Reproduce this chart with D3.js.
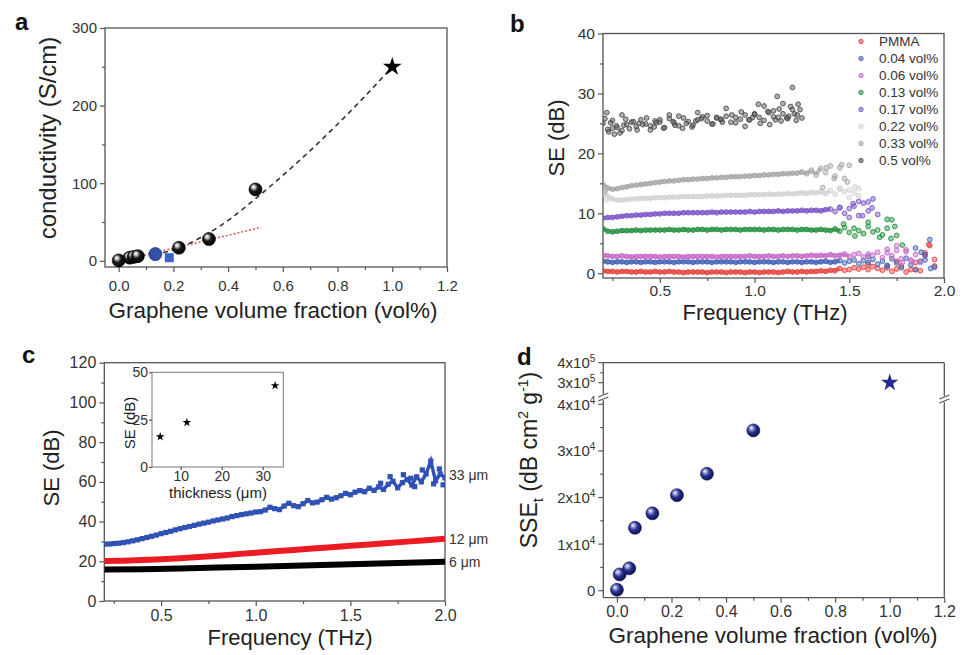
<!DOCTYPE html>
<html>
<head>
<meta charset="utf-8">
<script src="https://cdn.jsdelivr.net/npm/d3@7"></script>
<style>
  body { margin: 0; background: #fff; }
  svg { display: block; font-family: "Liberation Sans", Arial, Helvetica, sans-serif; }
  .tick text { fill: #333; }
</style>
</head>
<body>
<svg id="fig" width="965" height="655"></svg>
<script>
// ---------- panel a : conductivity vs graphene fraction
const aFrac = [0, 0.04, 0.055, 0.07, 0.22, 0.33, 0.5]
const aCond = [0.5, 4, 5, 6, 16.8, 28, 92]
const aBlueCircle = [0.134, 8.6]
const aBlueSquare = [0.185, 4]
const aStar = [1.0, 250]
const aFitX = [0.13, 0.2, 0.3, 0.4, 0.5, 0.6, 0.7, 0.8, 0.9, 1.0]
const aFitY = [8, 14, 30, 52, 80, 110, 142, 176, 212, 250]
const aLinX = [0.05, 0.52]
const aLinY = [3.5, 43]
const aXTicks = [0, 0.2, 0.4, 0.6, 0.8, 1.0, 1.2]
const aXMinor = [0.1, 0.3, 0.5, 0.7, 0.9, 1.1]
const aYTicks = [0, 100, 200, 300]
const aYMinor = [50, 150, 250]

// ---------- panel b : SE spectra, one value every 0.025 THz from 0.2 THz
const bNames = ['PMMA', '0.04 vol%', '0.06 vol%', '0.13 vol%', '0.17 vol%', '0.22 vol%', '0.33 vol%', '0.5 vol%']
const bColors = ['#e8413c', '#4262b8', '#c868c8', '#23903f', '#7b55c8', '#d2d2d2', '#a6a6a6', '#4d4d4d']
const bPMMA = [0.4,0.3,0.3,0.2,0.3,0.3,0.2,0.2,0.3,0.2, 0.2,0.3,0.2,0.2,0.3,0.2,0.2,0.1,0.2,0.2,
  0.2,0.2,0.1,0.2,0.2,0.2,0.1,0.2,0.2,0.2, 0.1,0.2,0.2,0.1,0.2,0.2,0.2,0.1,0.2,0.3,
  0.2,0.2,0.3,0.2,0.3,0.3,0.4,0.3,0.5,0.4, 0.8,0.5,0.6,0.9,0.7,1.0,0.6,1.1,0.8,0.5,
  0.9,0.3,0.7,1.2,0.2,0.6,1.8,0.4,2.9,4.6,1.2]
const b004 = [2.0,1.9,1.8,1.9,1.9,1.8,1.9,1.9,1.8,1.9, 1.9,1.8,1.9,1.9,1.9,1.8,1.9,1.9,1.9,1.8,
  1.9,1.9,1.9,1.8,1.9,1.9,1.9,1.9,1.8,1.9, 1.9,1.9,1.8,1.9,1.9,1.9,1.8,1.9,1.9,1.8,
  1.9,1.9,1.8,1.9,1.9,1.8,1.9,2.0,1.8,1.9, 2.1,1.7,2.0,2.2,1.6,2.1,1.8,2.3,1.5,2.0,
  1.3,2.4,1.7,0.9,2.5,1.4,0.6,2.0,3.1,5.6,1.0]
const b006 = [3.0,2.9,2.8,2.8,2.9,2.8,2.7,2.8,2.8,2.8, 2.8,2.8,2.7,2.8,2.8,2.8,2.8,2.7,2.8,2.8,
  2.8,2.8,2.8,2.8,2.7,2.8,2.8,2.8,2.8,2.8, 2.8,2.9,2.8,2.8,2.8,2.9,2.8,2.8,2.9,2.8,
  2.9,2.9,2.8,2.9,3.0,2.9,3.0,2.9,3.1,2.9, 3.0,3.2,2.8,3.1,3.3,2.7,3.2,3.0,3.5,2.6,
  3.4,2.9,3.8,2.4,3.6,2.2,3.1,1.8]
const b013 = [7.4,7.0,6.9,7.0,7.1,7.1,7.1,7.2,7.1,7.2, 7.2,7.2,7.2,7.2,7.3,7.2,7.2,7.3,7.2,7.2,
  7.3,7.3,7.2,7.3,7.3,7.2,7.3,7.3,7.3,7.2, 7.3,7.3,7.3,7.3,7.2,7.3,7.3,7.2,7.3,7.3,
  7.3,7.2,7.3,7.3,7.2,7.2,7.3,7.2,7.1,7.4, 7.0,7.6,6.8,7.5,7.1,6.6,7.8,6.9,7.2,6.4,
  7.5,8.9,6.3]
const b017 = [9.2,9.3,9.3,9.4,9.5,9.6,9.6,9.7,9.7,9.8, 9.8,9.9,9.9,10.0,10.0,10.0,10.0,10.1,10.1,10.1,
  10.1,10.1,10.1,10.2,10.1,10.2,10.2,10.2,10.2,10.2, 10.2,10.3,10.2,10.3,10.3,10.3,10.3,10.4,10.3,10.4,
  10.4,10.4,10.5,10.4,10.5,10.5,10.4,10.6,10.7,10.3, 10.9,10.0,10.8,11.2,9.6,11.7,10.4,12.4,9.8]
const b022 = [13.5,12.8,12.4,12.2,12.2,12.3,12.4,12.4,12.5,12.5, 12.5,12.6,12.6,12.6,12.7,12.7,12.7,12.8,12.8,12.8,
  12.8,12.8,12.9,12.9,12.9,12.9,13.0,13.0,13.0,13.0, 13.0,13.1,13.1,13.1,13.1,13.2,13.1,13.2,13.2,13.3,
  13.2,13.3,13.4,13.3,13.5,13.4,13.6,13.3,13.8,13.2, 14.0,13.6,13.9,13.4,14.1]
const b033 = [14.8,14.2,14.0,14.1,14.3,14.4,14.6,14.7,14.8,14.9, 15.0,15.1,15.2,15.3,15.4,15.4,15.5,15.6,15.6,15.7,
  15.7,15.8,15.8,15.9,15.9,16.0,16.0,16.1,16.1,16.1, 16.2,16.2,16.3,16.3,16.4,16.4,16.5,16.5,16.6,16.6,
  16.7,16.7,16.9,16.6,17.2,16.4,17.5,16.8,17.9,16.2, 17.6,15.8,18.0]
const b05 = [25.0,24.0,25.5,24.3,23.8,24.8,25.2,24.5,25.6,24.9, 24.6,25.4,25.2,24.3,25.8,25.1,24.6,25.9,25.3,24.7,
  25.6,26.1,25.4,24.9,25.9,25.6,26.2,25.2,26.0,25.7, 26.4,25.6,26.5,26.0,25.5,26.8,27.1,26.0,26.6,25.8,
  27.3,26.4,25.9]
const bSeries = [bPMMA, b004, b006, b013, b017, b022, b033, b05]
// frequency (THz) up to which each series is a tight band
const bBandEnd = [1.45, 1.45, 1.5, 1.45, 1.4, 1.4, 1.35, 0]
// loose points in the noisy parts, [THz, dB]
const bExtras = [
  [[1.6, 1.5], [1.75, 2.0], [1.85, 0.6], [1.9, 3.4], [1.95, 2.3], [1.92, 4.8]],
  [[1.6, 2.8], [1.7, 1.2], [1.85, 4.2], [1.9, 2.2], [1.93, 0.8], [1.88, 3.5]],
  [[1.7, 4.0], [1.75, 4.6], [1.8, 3.9], [1.83, 2.0], [1.78, 1.8]],
  [[1.47, 8.2], [1.53, 6.2], [1.6, 8.5], [1.66, 6.0], [1.7, 9.0], [1.72, 5.8], [1.74, 7.8], [1.78, 4.7]],
  [[1.45, 11.0], [1.5, 9.3], [1.52, 11.6], [1.57, 9.6], [1.6, 11.9], [1.62, 10.9], [1.55, 12.0]],
  [[1.45, 14.2], [1.5, 12.6], [1.53, 14.4], [1.55, 12.9], [0.22, 12.2]],
  [[1.38, 17.6], [1.42, 15.8], [1.46, 18.1], [1.49, 15.2], [1.36, 14.3], [0.21, 13.6]],
  [[0.22, 26.8], [0.26, 23.2], [0.3, 26.4], [0.45, 23.9], [0.55, 26.4], [0.62, 24.2], [0.85, 27.5], [0.95, 24.5],
   [1.02, 28.2], [1.05, 27.9], [1.08, 24.8], [1.12, 29.5], [1.15, 28.3], [1.2, 31.0], [1.22, 25.5], [0.7, 26.8],
   [0.21, 25.8], [0.23, 23.6], [0.24, 25.1], [0.27, 24.6], [0.29, 23.4], [0.32, 25.7], [0.34, 24.1], [0.36, 25.3],
   [0.38, 23.9], [0.41, 24.8], [0.43, 25.9], [0.47, 24.4], [0.5, 25.6], [0.52, 24.2], [0.57, 25.3], [0.6, 26.2],
   [0.64, 25.0], [0.67, 24.4], [0.72, 25.8], [0.75, 26.3], [0.78, 24.9], [0.8, 26.0], [0.83, 25.2], [0.88, 26.4],
   [0.9, 25.1], [0.93, 26.9], [0.97, 25.6], [1.0, 26.6], [1.03, 25.0], [1.07, 27.0], [1.1, 26.1], [1.13, 27.4],
   [1.17, 25.9], [1.19, 27.8], [1.21, 26.6], [1.24, 27.3], [1.18, 26.2], [1.14, 25.4], [1.23, 28.2], [0.25, 24.2],
   [0.31, 24.7], [0.39, 25.0], [0.48, 25.1], [0.58, 24.7], [0.69, 25.4], [0.82, 25.7], [0.99, 26.0], [1.11, 25.6]]
]
const bXTicks = [0.5, 1.0, 1.5, 2.0]
const bXMinor = [0.25, 0.75, 1.25, 1.75]
const bYTicks = [0, 10, 20, 30, 40]
const bYMinor = [5, 15, 25, 35]

// ---------- panel c : SE vs frequency for three thicknesses (0.025 THz steps for 33 um)
const c33 = [28.6,28.7,28.9,29.1,29.4,29.8,30.3,30.8,31.4,32.0, 32.6,33.2,33.9,34.5,35.1,35.8,36.4,37.0,37.5,38.1,
  38.7,39.2,39.7,40.3,40.8,41.3,41.8,42.5,43.0,43.5, 43.9,44.3,44.8,45.0,45.8,47.2,46.5,46.0,47.8,49.2,
  48.0,47.5,49.0,50.6,49.4,49.8,51.0,52.2,51.3,52.0, 53.0,54.2,53.5,54.8,55.6,55.0,56.8,55.7,57.5,56.2,
  58.8,60.3,57.0,59.6,61.2,58.4,62.5,60.0,64.0,70.5, 60.5,64.0,62.0]
const c33Extra = [[1.66, 59.3], [1.71, 62.6], [1.78, 63.6], [1.82, 61.8], [1.84, 57.6], [1.88, 66], [1.94, 59], [1.97, 66.5], [1.99, 58.5]]
const c12F = [0.2, 0.3, 0.4, 0.5, 0.6, 0.7, 0.8, 0.9, 1.0, 1.1, 1.2, 1.3, 1.4, 1.5, 1.6, 1.7, 1.8, 1.9, 2.0]
const c12 = [20.1, 20.3, 20.6, 21.0, 21.5, 22.1, 22.8, 23.6, 24.3, 25.0, 25.7, 26.4, 27.1, 27.8, 28.5, 29.2, 29.9, 30.6, 31.3]
const c6F = [0.2, 0.4, 0.6, 0.8, 1.0, 1.2, 1.4, 1.6, 1.8, 2.0]
const c6 = [15.8, 16.0, 16.4, 16.9, 17.3, 17.8, 18.3, 18.8, 19.3, 19.8]
const cLabels = ['33 μm', '12 μm', '6 μm']
const cLabelSE = [63.5, 31.2, 19.6]
const cInsetThick = [5, 11.5, 33]
const cInsetSE = [16, 23.5, 43]
const cXTicks = [0.5, 1.0, 1.5, 2.0]
const cXMinor = [0.25, 0.75, 1.25, 1.75]
const cYTicks = [0, 20, 40, 60, 80, 100, 120]
const cYMinor = [10, 30, 50, 70, 90, 110]

// ---------- panel d : specific SE vs graphene fraction (broken y axis)
const dFrac = [0, 0.01, 0.045, 0.066, 0.13, 0.22, 0.33, 0.5]
const dSSE = [200, 3500, 4800, 13500, 16600, 20500, 25100, 34400]
const dStar = [1.0, 300000]
const dXTicks = [0, 0.2, 0.4, 0.6, 0.8, 1.0, 1.2]
const dXMinor = [0.1, 0.3, 0.5, 0.7, 0.9, 1.1]
const dYLow = [[0, '0', ''], [10000, '1x10', '4'], [20000, '2x10', '4'], [30000, '3x10', '4'], [40000, '4x10', '4']]
const dYHigh = [[300000, '3x10', '5'], [400000, '4x10', '5']]

const svg = d3.select('#fig')
const defs = svg.append('defs')

function ball(id, stops) {
  const g = defs.append('radialGradient').attr('id', id)
    .attr('cx', '42%').attr('cy', '40%').attr('r', '60%').attr('fx', '34%').attr('fy', '30%')
  stops.forEach(([o, c]) => g.append('stop').attr('offset', o).attr('stop-color', c))
}
ball('ballK', [[0, '#ffffff'], [0.2, '#c8c8c8'], [0.5, '#1c1c1c'], [1, '#000000']])
ball('ballN', [[0, '#ffffff'], [0.2, '#a3aae0'], [0.55, '#27308c'], [1, '#0e1350']])

function clip(id, x, y) {
  const [x0, x1] = x.range(), [yb, yt] = y.range()
  defs.append('clipPath').attr('id', id).append('rect')
    .attr('x', x0).attr('y', yt).attr('width', x1 - x0).attr('height', yb - yt)
}

function tidy(g, fs) {
  g.attr('font-family', null).attr('font-size', fs).attr('color', '#555')
  g.selectAll('.domain').remove()
  g.selectAll('line').attr('stroke-width', 1.2)
}

function frame(x, y, o) {
  const [x0, x1] = x.range(), [yb, yt] = y.range()
  if (!o.noBox) {
    svg.append('rect').attr('x', x0).attr('y', yt).attr('width', x1 - x0).attr('height', yb - yt)
      .attr('fill', 'none').attr('stroke', '#555').attr('stroke-width', 1.3)
  }
  const gx = svg.append('g').attr('transform', `translate(0,${yb})`)
  gx.call(d3.axisBottom(x).tickValues(o.xt).tickFormat(d3.format('.1f')).tickSize(5).tickPadding(o.xpad))
  gx.append('g').call(d3.axisBottom(x).tickValues(o.xm).tickFormat(() => '').tickSize(3))
  tidy(gx, o.fs)
  if (!o.yt) return
  const gy = svg.append('g').attr('transform', `translate(${x0},0)`)
  gy.call(d3.axisLeft(y).tickValues(o.yt).tickSize(5).tickPadding(3))
  gy.append('g').call(d3.axisLeft(y).tickValues(o.ym).tickFormat(() => '').tickSize(3))
  tidy(gy, o.fs)
}

function label(x, y, txt, fs, rot) {
  return svg.append('text').attr('transform', `translate(${x},${y})` + (rot ? ' rotate(-90)' : ''))
    .attr('text-anchor', 'middle').attr('font-size', fs).attr('fill', '#222').text(txt)
}

function letter(x, y, t) {
  svg.append('text').attr('x', x).attr('y', y).attr('font-size', 24).attr('font-weight', 'bold')
    .attr('fill', '#111').text(t)
}

// ================= panel a
const ax = d3.scaleLinear([-0.05, 1.2], [105, 447])
const ay = d3.scaleLinear([-8, 300], [267, 28])
frame(ax, ay, { xt: aXTicks, xm: aXMinor, yt: aYTicks, ym: aYMinor, xpad: 8, fs: 15 })
letter(15, 30, 'a')
label(273, 318, 'Graphene volume fraction (vol%)', 22.5)
label(56, 138, 'conductivity (S/cm)', 24, true)

svg.append('path')
  .attr('d', d3.line().x((d, i) => ax(aLinX[i])).y(d => ay(d))(aLinY))
  .attr('fill', 'none').attr('stroke', '#e8443a').attr('stroke-width', 1.4).attr('stroke-dasharray', '2,2')
svg.append('path')
  .attr('d', d3.line().curve(d3.curveMonotoneX).x((d, i) => ax(aFitX[i])).y(d => ay(d))(aFitY))
  .attr('fill', 'none').attr('stroke', '#333').attr('stroke-width', 1.6).attr('stroke-dasharray', '5,4')
svg.append('g').selectAll('circle').data(aCond).join('circle')
  .attr('cx', (d, i) => ax(aFrac[i])).attr('cy', d => ay(d)).attr('r', 6.5)
  .attr('fill', 'url(#ballK)').attr('stroke', '#000').attr('stroke-width', 0.6)
svg.append('circle').attr('cx', ax(aBlueCircle[0])).attr('cy', ay(aBlueCircle[1])).attr('r', 6.5)
  .attr('fill', '#3450a6').attr('stroke', '#1f3070').attr('stroke-width', 0.8)
svg.append('rect').attr('x', ax(aBlueSquare[0]) - 4.5).attr('y', ay(aBlueSquare[1]) - 4.5)
  .attr('width', 9).attr('height', 9).attr('fill', '#3e62c2')
svg.append('path').attr('d', d3.symbol().type(d3.symbolStar).size(110)())
  .attr('transform', `translate(${ax(aStar[0])},${ay(aStar[1])})`).attr('fill', '#000')

// ================= panel b
const bx = d3.scaleLinear([0.2, 2.0], [603, 944])
const by = d3.scaleLinear([-0.8, 40], [278, 33.5])
clip('clipB', bx, by)
frame(bx, by, { xt: bXTicks, xm: bXMinor, yt: bYTicks, ym: bYMinor, xpad: 2, fs: 15.5 })
letter(510, 32, 'b')
label(765, 320, 'Frequency (THz)', 22)
label(564, 138, 'SE (dB)', 22, true)

const bPlot = svg.append('g').attr('clip-path', 'url(#clipB)')
bSeries.forEach((vals, k) => {
  const g = bPlot.append('g')
  const pts = vals.map((v, i) => [0.2 + i * 0.025, v])
  const band = pts.filter(d => d[0] <= bBandEnd[k] + 1e-9)
  if (band.length) {
    g.append('path').attr('d', d3.line().curve(d3.curveBasis).x(d => bx(d[0])).y(d => by(d[1]))(band))
      .attr('fill', 'none').attr('stroke', bColors[k]).attr('stroke-width', 4).attr('opacity', 0.75)
  }
  g.selectAll('circle').data(pts.concat(bExtras[k])).join('circle')
    .attr('cx', d => bx(d[0])).attr('cy', d => by(d[1])).attr('r', 2.4)
    .attr('fill', bColors[k]).attr('fill-opacity', 0.45)
    .attr('stroke', bColors[k]).attr('stroke-width', 0.9)
})
const leg = svg.append('g').attr('font-size', 13.5)
bNames.forEach((n, k) => {
  const yy = 41.5 + k * 17
  leg.append('circle').attr('cx', 861).attr('cy', yy).attr('r', 2.2)
    .attr('fill', bColors[k]).attr('fill-opacity', 0.6).attr('stroke', bColors[k]).attr('stroke-width', 0.8)
  leg.append('text').attr('x', 879).attr('y', yy + 4.8).attr('fill', '#333').text(n)
})

// ================= panel c
const cx = d3.scaleLinear([0.2, 2.0], [104.3, 445])
const cy = d3.scaleLinear([0, 120], [601, 362.7])
clip('clipC', cx, cy)
frame(cx, cy, { xt: cXTicks, xm: cXMinor, yt: cYTicks, ym: cYMinor, xpad: 4, fs: 16 })
letter(22, 363, 'c')
label(290, 645, 'Frequency (THz)', 22)
label(59, 468, 'SE (dB)', 22, true)

const cPlot = svg.append('g').attr('clip-path', 'url(#clipC)')
cPlot.append('path').attr('d', d3.line().x((d, i) => cx(c6F[i])).y(d => cy(d))(c6))
  .attr('fill', 'none').attr('stroke', '#000').attr('stroke-width', 6)
cPlot.append('path').attr('d', d3.line().x((d, i) => cx(c12F[i])).y(d => cy(d))(c12))
  .attr('fill', 'none').attr('stroke', '#ec1c24').attr('stroke-width', 6)
const c33Pts = c33.map((v, i) => [0.2 + i * 0.025, v])
cPlot.append('path').attr('d', d3.line().x(d => cx(d[0])).y(d => cy(d[1]))(c33Pts))
  .attr('fill', 'none').attr('stroke', '#2f52b4').attr('stroke-width', 3.5)
cPlot.selectAll('rect.sq').data(c33Pts.concat(c33Extra)).join('rect').attr('class', 'sq')
  .attr('x', d => cx(d[0]) - 2.6).attr('y', d => cy(d[1]) - 2.6).attr('width', 5.2).attr('height', 5.2)
  .attr('fill', '#2f52b4')
cLabels.forEach((t, k) => {
  svg.append('text').attr('x', 449).attr('y', cy(cLabelSE[k]) + 5).attr('font-size', 14).attr('fill', '#333').text(t)
})

// inset
const ix = d3.scaleLinear([3, 35], [152, 283.3])
const iy = d3.scaleLinear([0, 50], [467, 372.3])
svg.append('rect').attr('x', 152).attr('y', 372.3).attr('width', 131.3).attr('height', 94.7)
  .attr('fill', '#fff').attr('stroke', '#777').attr('stroke-width', 1)
const igx = svg.append('g').attr('transform', 'translate(0,467)')
  .call(d3.axisBottom(ix).tickValues([10, 20, 30]).tickSize(3).tickPadding(1))
tidy(igx, 14)
const igy = svg.append('g').attr('transform', 'translate(152,0)')
  .call(d3.axisLeft(iy).tickValues([0, 25, 50]).tickSize(3).tickPadding(1))
tidy(igy, 14)
label(218, 498, 'thickness (μm)', 15)
label(135, 423, 'SE (dB)', 15, true)
svg.append('g').selectAll('path').data(cInsetSE).join('path')
  .attr('d', d3.symbol().type(d3.symbolStar).size(24)())
  .attr('transform', (d, i) => `translate(${ix(cInsetThick[i])},${iy(d)})`).attr('fill', '#000')

// ================= panel d
const dx = d3.scaleLinear([-0.05, 1.2], [603.3, 944.3])
const dyLo = d3.scaleLinear([-1500, 40000], [597.7, 404.3])
const dyHi = d3.scaleLinear([250000, 400000], [392.7, 362.7])
const dL = 603.3, dR = 944.3, dT = 362.7, dB = 597.7
frame(dx, dyLo, { xt: dXTicks, xm: dXMinor, xpad: 3, fs: 16, noBox: true })
const dFrame = svg.append('g').attr('stroke', '#555').attr('stroke-width', 1.3).attr('fill', 'none')
dFrame.append('path').attr('d', `M${dL},${dB}H${dR}M${dL},${dT}H${dR}` +
  `M${dL},${dB}V400M${dL},394V${dT}M${dR},${dB}V402M${dR},396V${dT}`)
dFrame.append('path').attr('d', `M${dL - 5},401L${dL + 5},397M${dL - 5},397L${dL + 5},393` +
  `M${dR - 5},403L${dR + 5},399M${dR - 5},399L${dR + 5},395`).attr('stroke-width', 1.1)
letter(517, 365, 'd')
label(773, 643, 'Graphene volume fraction (vol%)', 22.5)

const dyTicks = dYLow.map(d => [dyLo(d[0]), d[1], d[2]]).concat(dYHigh.map(d => [dyHi(d[0]), d[1], d[2]]))
const dyMinor = [5000, 15000, 25000, 35000].map(v => dyLo(v)).concat([dyHi(350000)])
const gdy = svg.append('g').attr('stroke', '#555').attr('stroke-width', 1.2)
dyTicks.forEach(t => gdy.append('line').attr('x1', dL - 5).attr('x2', dL).attr('y1', t[0]).attr('y2', t[0]))
dyMinor.forEach(v => gdy.append('line').attr('x1', dL - 3).attr('x2', dL).attr('y1', v).attr('y2', v))
dyTicks.forEach(t => {
  const tx = svg.append('text').attr('x', dL - 8).attr('y', t[0] + 5.5).attr('text-anchor', 'end')
    .attr('font-size', 15).attr('fill', '#333')
  tx.append('tspan').text(t[1])
  if (t[2]) tx.append('tspan').attr('font-size', 10).attr('dy', -6).text(t[2])
})
const dyl = svg.append('text').attr('transform', 'translate(537,460) rotate(-90)')
  .attr('text-anchor', 'middle').attr('font-size', 23).attr('fill', '#222')
dyl.append('tspan').text('SSE')
dyl.append('tspan').attr('font-size', 15).attr('dy', 6).text('t')
dyl.append('tspan').attr('dy', -6).text(' (dB cm')
dyl.append('tspan').attr('font-size', 14).attr('dy', -9).text('2')
dyl.append('tspan').attr('dy', 9).text(' g')
dyl.append('tspan').attr('font-size', 14).attr('dy', -9).text('-1')
dyl.append('tspan').attr('dy', 9).text(')')

svg.append('g').selectAll('circle').data(dSSE).join('circle')
  .attr('cx', (d, i) => dx(dFrac[i])).attr('cy', d => dyLo(d)).attr('r', 6.5)
  .attr('fill', 'url(#ballN)').attr('stroke', '#10155a').attr('stroke-width', 0.6)
svg.append('path').attr('d', d3.symbol().type(d3.symbolStar).size(95)())
  .attr('transform', `translate(${dx(dStar[0])},${dyHi(dStar[1])})`).attr('fill', '#262f8e')
</script>
</body>
</html>
